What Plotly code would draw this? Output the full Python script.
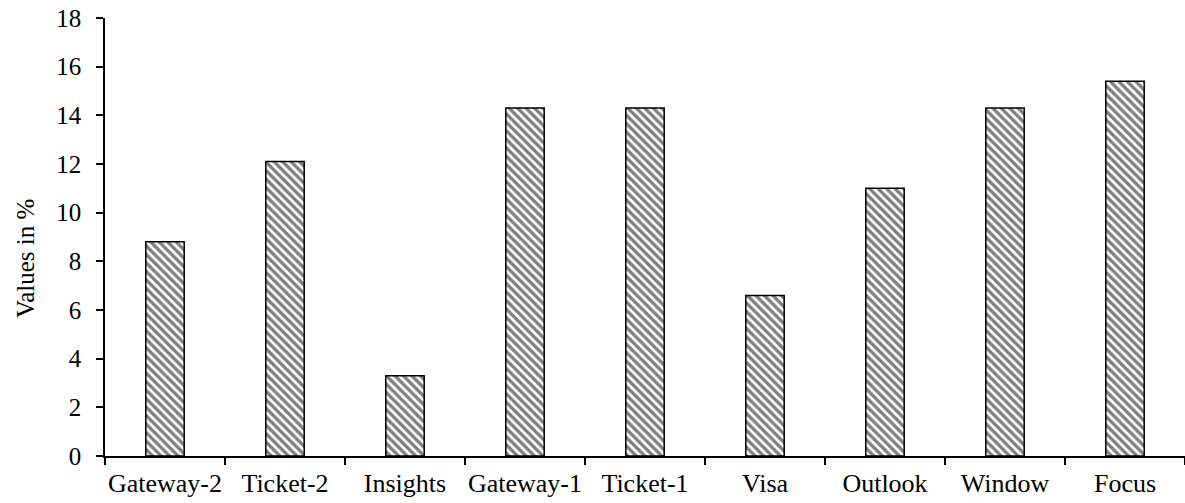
import plotly.graph_objects as go

categories = ["Gateway-2", "Ticket-2", "Insights", "Gateway-1", "Ticket-1", "Visa", "Outlook", "Window", "Focus"]
values = [8.8, 12.1, 3.3, 14.3, 14.3, 6.6, 11.0, 14.3, 15.4]
y_title = "Values in %"

FAM = "Liberation Serif, Times New Roman, serif"
xfont = dict(family=FAM, size=26, color="black")
yfont = dict(family=FAM, size=25, color="black")

fig = go.Figure(go.Bar(
    x=categories, y=values, width=0.32,
    marker=dict(
        color="white",
        line=dict(color="black", width=1.5),
        pattern=dict(shape="\\", fgcolor="black", bgcolor="white", size=6, solidity=0.55),
    ),
))

fig.update_layout(
    width=1185, height=503,
    margin=dict(l=105, r=0, t=18, b=47),
    paper_bgcolor="white", plot_bgcolor="white",
    font=yfont, showlegend=False,
)
fig.update_xaxes(
    showline=True, linecolor="black", linewidth=1.5,
    ticks="outside", tickson="boundaries", ticklen=7, tickcolor="black", tickwidth=1.5,
    showgrid=False, tickfont=xfont, ticklabelstandoff=3, tickangle=0,
    ticklabeloverflow="allow", automargin=False,
)
fig.update_yaxes(
    range=[0, 18], dtick=2, showline=True, linecolor="black", linewidth=1.5,
    ticks="outside", ticklen=7, tickcolor="black", tickwidth=1.5,
    showgrid=False, zeroline=False, tickfont=yfont, ticklabelstandoff=10,
    ticklabeloverflow="allow", automargin=False,
)
fig.add_annotation(
    text=y_title, textangle=-90, font=yfont, showarrow=False,
    xref="paper", yref="paper", x=-0.073, y=0.45, xanchor="center", yanchor="middle",
)

fig.write_html("out.html", config={"displayModeBar": False},
               post_script="document.body.style.margin='0';")
